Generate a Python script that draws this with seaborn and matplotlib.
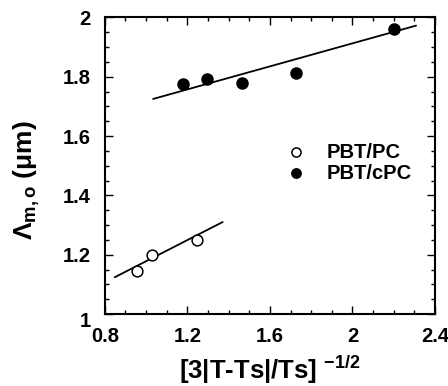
import numpy as np
import pandas as pd
import matplotlib
matplotlib.use("Agg")
import matplotlib.pyplot as plt
from matplotlib.ticker import MultipleLocator
from matplotlib.transforms import ScaledTranslation
import seaborn as sns

# Measured data
pc_x = [0.954, 1.028, 1.249]
pc_y = [1.145, 1.198, 1.249]
cpc_x = [1.177, 1.296, 1.467, 1.726, 2.203]
cpc_y = [1.774, 1.792, 1.780, 1.811, 1.961]

# Linear fits: slope, intercept and x-range of each drawn line
pc_fit = {"slope": 0.356, "intercept": 0.822, "x": [0.848, 1.371]}
cpc_fit = {"slope": 0.194, "intercept": 1.5244, "x": [1.034, 2.308]}

xticks = [0.8, 1.2, 1.6, 2.0, 2.4]
xtick_labels = ["0.8", "1.2", "1.6", "2", "2.4"]
yticks = [1.0, 1.2, 1.4, 1.6, 1.8, 2.0]
ytick_labels = ["1", "1.2", "1.4", "1.6", "1.8", "2"]

sns.set_theme(style="ticks")
plt.rcParams["font.family"] = ["Liberation Sans", "DejaVu Sans"]
plt.rcParams["font.weight"] = "bold"
plt.rcParams["text.color"] = "black"
plt.rcParams["axes.labelcolor"] = "black"
plt.rcParams["xtick.color"] = "black"
plt.rcParams["ytick.color"] = "black"
plt.rcParams["xtick.labelsize"] = 14.5
plt.rcParams["ytick.labelsize"] = 14.5
plt.rcParams["mathtext.fontset"] = "custom"
plt.rcParams["mathtext.rm"] = "Liberation Sans:bold"
plt.rcParams["mathtext.it"] = "Liberation Sans:bold"
plt.rcParams["mathtext.bf"] = "Liberation Sans:bold"

fig = plt.figure(figsize=(4.48, 3.86), dpi=100)
ax = fig.add_axes([0.234, 0.1865, 0.737, 0.7685])

for fit in (pc_fit, cpc_fit):
    xs = np.array(fit["x"])
    ys = fit["slope"] * xs + fit["intercept"]
    sns.lineplot(x=xs, y=ys, ax=ax, color="black", linewidth=1.3,
                 legend=False)

pc = pd.DataFrame({"x": pc_x, "y": pc_y})
cpc = pd.DataFrame({"x": cpc_x, "y": cpc_y})
sns.scatterplot(data=pc, x="x", y="y", ax=ax, marker="o", s=60,
                facecolor="white", edgecolor="black", linewidth=1.1,
                label="PBT/PC", zorder=3)
sns.scatterplot(data=cpc, x="x", y="y", ax=ax, marker="o", s=64,
                color="black", edgecolor="black", linewidth=1.0,
                label="PBT/cPC", zorder=3)

ax.set_xlim(0.8, 2.4)
ax.set_ylim(1.0, 2.0)
ax.set_xticks(xticks)
ax.set_xticklabels(xtick_labels, fontsize=14.5, fontweight="bold")
ax.set_yticks(yticks)
ax.set_yticklabels(ytick_labels, fontsize=14.5, fontweight="bold")
ax.xaxis.set_minor_locator(MultipleLocator(0.1))
ax.yaxis.set_minor_locator(MultipleLocator(0.05))
ax.tick_params(which="both", direction="in", top=True, right=True,
               color="black", width=1.0)
ax.tick_params(which="major", length=6)
ax.tick_params(axis="x", which="major", pad=9)
ax.tick_params(axis="y", which="major", pad=10)
ax.tick_params(which="minor", length=3)
# the bottom y label sits just under the axis corner
for lab in ax.get_yticklabels():
    if lab.get_text() == "1":
        lab.set_transform(lab.get_transform() +
                          ScaledTranslation(0, -5 / 100, fig.dpi_scale_trans))
for sp in ax.spines.values():
    sp.set_visible(True)
    sp.set_linewidth(1.5)
    sp.set_color("black")

ax.set_xlabel(r"[3|T-Ts|/Ts] $^{-1/2}$", fontsize=18.5, fontweight="bold",
              labelpad=6)
ax.set_ylabel(r"$\Lambda_{m,o}$ (μm)", fontsize=19, fontweight="bold")
ax.yaxis.set_label_coords(-0.19, 0.45)

leg = ax.legend(loc="center left", bbox_to_anchor=(0.494, 0.51),
                frameon=False, fontsize=14.5, handletextpad=0.5,
                labelspacing=0.1, borderaxespad=0, markerscale=0.85)
for t in leg.get_texts():
    t.set_fontweight("bold")
    t.set_color("black")

fig.savefig("out.png", dpi=100)
